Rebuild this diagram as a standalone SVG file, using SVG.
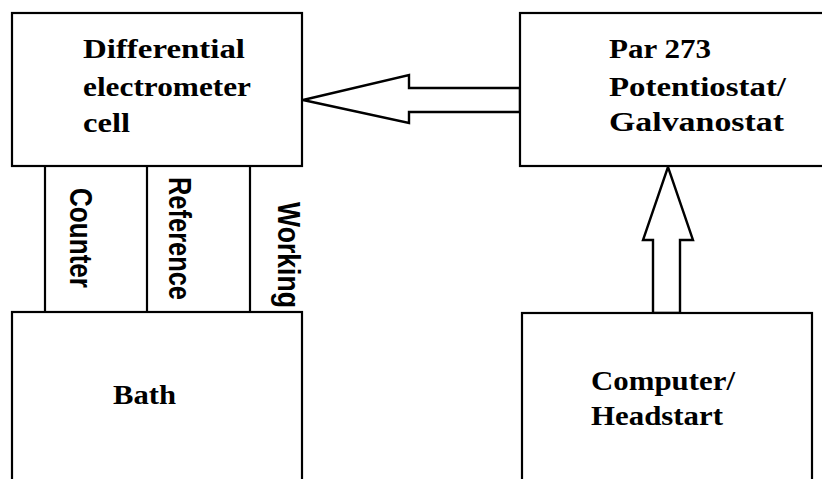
<svg xmlns="http://www.w3.org/2000/svg" width="822" height="479" viewBox="0 0 822 479">
<style>
.box{fill:#fff;stroke:#000;stroke-width:2.2}
.ln{stroke:#000;stroke-width:2.2;fill:none}
.arr{fill:#fff;stroke:#000;stroke-width:2.4;stroke-linejoin:miter}
.t{font-family:"Liberation Serif",serif;font-weight:bold;font-size:27px;fill:#000}
.s{font-family:"Liberation Sans",Arial,sans-serif;font-weight:bold;font-size:31px;fill:#000}
</style>
<rect width="822" height="479" fill="#fff"/>
<g id="connectors">
<line class="ln" x1="45" y1="166" x2="45" y2="312"/>
<line class="ln" x1="147" y1="166" x2="147" y2="312"/>
<line class="ln" x1="250" y1="166" x2="250" y2="312"/>
<polygon class="arr" points="303,100 409,75 409,88 520,88 520,112 409,112 409,123"/>
<polygon class="arr" points="668,167 643,240 653,240 653,313 680,313 680,240 693,240"/>
<g transform="translate(70,188) rotate(90)"><text class="s" x="0" y="0" textLength="100" lengthAdjust="spacingAndGlyphs">Counter</text></g>
<g transform="translate(169,177) rotate(90)"><text class="s" x="0" y="0" textLength="123" lengthAdjust="spacingAndGlyphs">Reference</text></g>
<g transform="translate(278,202) rotate(90)"><text class="s" x="0" y="0" textLength="106" lengthAdjust="spacingAndGlyphs">Working</text></g>
</g>
<g id="cell">
<rect class="box" x="12" y="13" width="290" height="153"/>
<text class="t" x="83" y="58" textLength="162" lengthAdjust="spacingAndGlyphs">Differential</text>
<text class="t" x="83" y="96" textLength="168" lengthAdjust="spacingAndGlyphs">electrometer</text>
<text class="t" x="83" y="132" textLength="47" lengthAdjust="spacingAndGlyphs">cell</text>
</g>
<g id="potentiostat">
<rect class="box" x="520" y="13" width="330" height="153"/>
<text class="t" x="609" y="58" textLength="102" lengthAdjust="spacingAndGlyphs">Par 273</text>
<text class="t" x="609" y="96" textLength="177" lengthAdjust="spacingAndGlyphs">Potentiostat/</text>
<text class="t" x="609" y="131" textLength="175" lengthAdjust="spacingAndGlyphs">Galvanostat</text>
</g>
<g id="bath">
<rect class="box" x="12" y="312" width="290" height="200"/>
<text class="t" x="113" y="404" textLength="63" lengthAdjust="spacingAndGlyphs">Bath</text>
</g>
<g id="computer">
<rect class="box" x="522" y="313" width="290" height="200"/>
<text class="t" x="591" y="390" textLength="144" lengthAdjust="spacingAndGlyphs">Computer/</text>
<text class="t" x="591" y="425" textLength="132" lengthAdjust="spacingAndGlyphs">Headstart</text>
</g>
</svg>
